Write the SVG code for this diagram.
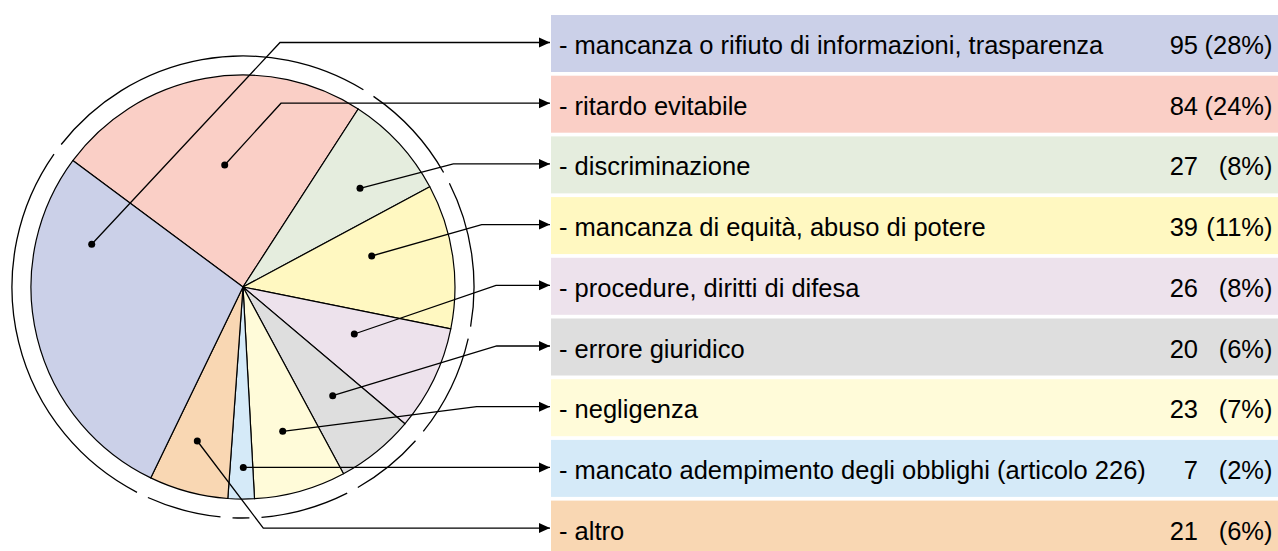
<svg xmlns="http://www.w3.org/2000/svg" width="1278" height="551" viewBox="0 0 1278 551">
<defs>
<marker id="arr" markerUnits="userSpaceOnUse" markerWidth="12" markerHeight="12" viewBox="0 0 12 12" refX="11" refY="6" orient="auto">
<path d="M0,1 L11,6 L0,11 Z" fill="#000"/>
</marker>
</defs>
<style>
.sl{stroke:#000;stroke-width:1.2;stroke-linejoin:round}
.ring{fill:none;stroke:#000;stroke-width:1.3}
.cn{fill:none;stroke:#000;stroke-width:1.3;marker-end:url(#arr)}
.dot{fill:#000}
.lbl{font-family:"Liberation Sans",Arial,sans-serif;font-size:25.5px;fill:#000}
.num{font-family:"Liberation Sans",Arial,sans-serif;font-size:25.5px;fill:#000;text-anchor:end}
.c1{fill:#CBD0E8}.c2{fill:#FACFC6}.c3{fill:#E5EDDE}.c4{fill:#FFF8C1}.c5{fill:#EDE2EC}.c6{fill:#DEDEDE}.c7{fill:#FFFBD9}.c8{fill:#D5EAF8}.c9{fill:#F9D7B3}
</style>
<rect width="1278" height="551" fill="#fff"/>
<g id="pie">
<path class="sl c2" d="M243,287 L72.8,160.6 A212,212 0 0 1 358.2,109.0 Z"/>
<path class="sl c3" d="M243,287 L358.2,109.0 A212,212 0 0 1 429.8,186.8 Z"/>
<path class="sl c4" d="M243,287 L429.8,186.8 A212,212 0 0 1 450.8,328.9 Z"/>
<path class="sl c5" d="M243,287 L450.8,328.9 A212,212 0 0 1 404.9,423.8 Z"/>
<path class="sl c6" d="M243,287 L404.9,423.8 A212,212 0 0 1 343.5,473.7 Z"/>
<path class="sl c7" d="M243,287 L343.5,473.7 A212,212 0 0 1 254.5,498.7 Z"/>
<path class="sl c8" d="M243,287 L254.5,498.7 A212,212 0 0 1 227.8,498.5 Z"/>
<path class="sl c9" d="M243,287 L227.8,498.5 A212,212 0 0 1 150.7,477.9 Z"/>
<path class="sl c1" d="M243,287 L150.7,477.9 A212,212 0 0 1 72.8,160.6 Z"/>
</g>
<g id="ring">
<path class="ring" d="M61.2,144.5 A231,231 0 0 1 363.4,89.8"/>
<path class="ring" d="M373.5,96.4 A231,231 0 0 1 443.6,172.5"/>
<path class="ring" d="M449.4,183.2 A231,231 0 0 1 470.6,326.7"/>
<path class="ring" d="M468.2,338.6 A231,231 0 0 1 423.3,431.4"/>
<path class="ring" d="M415.5,440.7 A231,231 0 0 1 357.8,487.5"/>
<path class="ring" d="M347.2,493.2 A231,231 0 0 1 261.5,517.3"/>
<path class="ring" d="M249.4,517.9 A231,231 0 0 1 232.5,517.8"/>
<path class="ring" d="M220.5,516.9 A231,231 0 0 1 147.9,497.5"/>
<path class="ring" d="M137.0,492.3 A231,231 0 0 1 54.0,154.2"/>
</g>
<g id="n1"><rect class="c1" x="551" y="15" width="727" height="57"/><text class="lbl" x="559" y="54">- mancanza o rifiuto di informazioni, trasparenza</text><text class="num" x="1198" y="54">95</text><text class="num" x="1272.5" y="54">(28%)</text></g>
<g id="n2"><rect class="c2" x="551" y="75.7" width="727" height="57"/><text class="lbl" x="559" y="114.7">- ritardo evitabile</text><text class="num" x="1198" y="114.7">84</text><text class="num" x="1272.5" y="114.7">(24%)</text></g>
<g id="n3"><rect class="c3" x="551" y="136.4" width="727" height="57"/><text class="lbl" x="559" y="175.4">- discriminazione</text><text class="num" x="1198" y="175.4">27</text><text class="num" x="1272.5" y="175.4">(8%)</text></g>
<g id="n4"><rect class="c4" x="551" y="197.1" width="727" height="57"/><text class="lbl" x="559" y="236.1">- mancanza di equità, abuso di potere</text><text class="num" x="1198" y="236.1">39</text><text class="num" x="1272.5" y="236.1">(11%)</text></g>
<g id="n5"><rect class="c5" x="551" y="257.8" width="727" height="57"/><text class="lbl" x="559" y="296.8">- procedure, diritti di difesa</text><text class="num" x="1198" y="296.8">26</text><text class="num" x="1272.5" y="296.8">(8%)</text></g>
<g id="n6"><rect class="c6" x="551" y="318.5" width="727" height="57"/><text class="lbl" x="559" y="357.5">- errore giuridico</text><text class="num" x="1198" y="357.5">20</text><text class="num" x="1272.5" y="357.5">(6%)</text></g>
<g id="n7"><rect class="c7" x="551" y="379.2" width="727" height="57"/><text class="lbl" x="559" y="418.2">- negligenza</text><text class="num" x="1198" y="418.2">23</text><text class="num" x="1272.5" y="418.2">(7%)</text></g>
<g id="n8"><rect class="c8" x="551" y="439.9" width="727" height="57"/><text class="lbl" x="559" y="478.9">- mancato adempimento degli obblighi (articolo 226)</text><text class="num" x="1198" y="478.9">7</text><text class="num" x="1272.5" y="478.9">(2%)</text></g>
<g id="n9"><rect class="c9" x="551" y="500.6" width="727" height="57"/><text class="lbl" x="559" y="539.6">- altro</text><text class="num" x="1198" y="539.6">21</text><text class="num" x="1272.5" y="539.6">(6%)</text></g>
<g id="connectors">
<polyline class="cn" points="91.7,244.3 280,42.5 550,42.5"/>
<polyline class="cn" points="224.7,165 281,103.2 550,103.2"/>
<polyline class="cn" points="360,188.3 453.3,163.9 550,163.9"/>
<polyline class="cn" points="371.7,256 481.7,224.6 550,224.6"/>
<polyline class="cn" points="354.3,334 496,285.3 550,285.3"/>
<polyline class="cn" points="332.7,395.7 496.7,346 550,346"/>
<polyline class="cn" points="282.7,431.3 476.7,406.7 550,406.7"/>
<polyline class="cn" points="243.3,467.4 550,467.4"/>
<polyline class="cn" points="197.3,441 263.3,528.1 550,528.1"/>
<circle class="dot" cx="91.7" cy="244.3" r="3.5"/>
<circle class="dot" cx="224.7" cy="165" r="3.5"/>
<circle class="dot" cx="360" cy="188.3" r="3.5"/>
<circle class="dot" cx="371.7" cy="256" r="3.5"/>
<circle class="dot" cx="354.3" cy="334" r="3.5"/>
<circle class="dot" cx="332.7" cy="395.7" r="3.5"/>
<circle class="dot" cx="282.7" cy="431.3" r="3.5"/>
<circle class="dot" cx="243.3" cy="467.4" r="3.5"/>
<circle class="dot" cx="197.3" cy="441" r="3.5"/>
</g>
</svg>
